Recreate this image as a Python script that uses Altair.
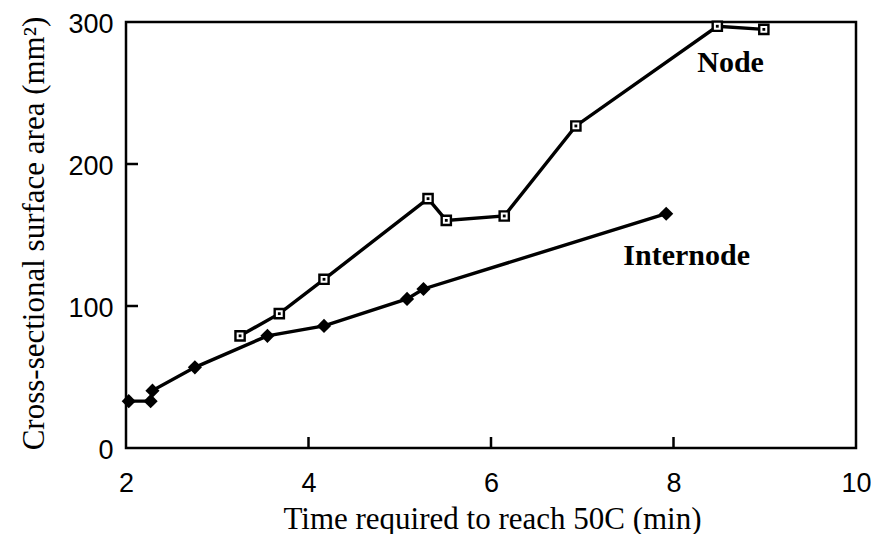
import altair as alt
import pandas as pd

# ---- data ----
internode_x = [2.03, 2.27, 2.29, 2.755, 3.55, 4.17, 5.08, 5.26, 7.92]
internode_y = [33, 33, 40.4, 56.8, 79, 86, 105, 112, 165]
node_x = [3.25, 3.68, 4.17, 5.31, 5.51, 6.145, 6.93, 8.48, 8.99]
node_y = [79, 94.6, 118.8, 175.6, 160.3, 163.4, 226.8, 297, 294.8]
x_ticks = [2, 4, 6, 8, 10]
y_ticks = [0, 100, 200, 300]
inner_x_ticks = [4, 6, 8]
inner_y_ticks = [100, 200]
label_text = ["Node", "Internode"]
label_x = [8.26, 7.45]
label_y = [265, 129]

internode = pd.DataFrame({"x": internode_x, "y": internode_y})
node = pd.DataFrame({"x": node_x, "y": node_y})
labels = pd.DataFrame({"text": label_text, "x": label_x, "y": label_y})
xt = pd.DataFrame({"x": inner_x_ticks})
yt = pd.DataFrame({"y": inner_y_ticks})

xscale = alt.Scale(domain=[2, 10], nice=False, zero=False)
yscale = alt.Scale(domain=[0, 300], nice=False, zero=False)

X = alt.X(
    "x:Q",
    scale=xscale,
    axis=alt.Axis(
        values=x_ticks,
        title="Time required to reach 50C (min)",
        domain=False,
        ticks=False,
        tickSize=0,
        grid=False,
        labelFont="Liberation Sans",
        labelFontSize=27,
        labelColor="black",
        labelBaseline="alphabetic",
        labelPadding=43,
        labelFlush=False,
        labelOverlap=False,
        titleFont="Liberation Serif",
        titleFontSize=31,
        titleFontWeight="normal",
        titleColor="black",
        titleBaseline="alphabetic",
        titleAlign="center",
        titleX=366,
        titleY=80,
    ),
)
Y = alt.Y(
    "y:Q",
    scale=yscale,
    axis=alt.Axis(
        values=y_ticks,
        title="Cross-sectional surface area (mm²)",
        domain=False,
        ticks=False,
        tickSize=0,
        grid=False,
        labelFont="Liberation Sans",
        labelFontSize=27,
        labelColor="black",
        labelBaseline="middle",
        labelPadding=13,
        labelOffset=2,
        labelFlush=False,
        labelOverlap=False,
        titleFont="Liberation Serif",
        titleFontSize=31,
        titleFontWeight="normal",
        titleColor="black",
        titleBaseline="alphabetic",
        titleAlign="center",
        titleAngle=270,
        titleX=-83,
        titleY=211,
    ),
)

internode_line = alt.Chart(internode).mark_line(color="black", strokeWidth=3.4).encode(x=X, y=Y)
internode_pts = alt.Chart(internode).mark_point(
    shape="diamond", filled=True, color="black", size=200, strokeWidth=1, opacity=1
).encode(x=X, y=Y)

node_line = alt.Chart(node).mark_line(color="black", strokeWidth=3.4).encode(x=X, y=Y)
node_sq = alt.Chart(node).mark_point(
    shape="square", filled=True, fill="white", stroke="black", strokeWidth=2.4, size=85, opacity=1
).encode(x=X, y=Y)
node_dot = alt.Chart(node).mark_point(
    shape="square", filled=True, color="black", size=8, opacity=1
).encode(x=X, y=Y)

xtick_rules = alt.Chart(xt).mark_rule(color="black", strokeWidth=2.5).encode(
    x=X, y=alt.value(426), y2=alt.value(415)
)
ytick_rules = alt.Chart(yt).mark_rule(color="black", strokeWidth=2.5).encode(
    y=Y, x=alt.value(0), x2=alt.value(12)
)

text = alt.Chart(labels).mark_text(
    font="Liberation Serif", fontWeight="bold", fontSize=30, align="left",
    baseline="alphabetic", color="black"
).encode(x=X, y=Y, text="text:N")

chart = alt.layer(
    xtick_rules, ytick_rules, internode_line, node_line, internode_pts, node_sq, node_dot, text
).properties(
    width=730,
    height=426,
    padding={"left": 118, "top": 14, "right": 15, "bottom": 86},
    autosize=alt.AutoSizeParams(type="none"),
    background="white",
).configure_view(
    stroke="black", strokeWidth=2.5
)

chart.save("out.html", embed_options={"renderer": "svg", "actions": False})
